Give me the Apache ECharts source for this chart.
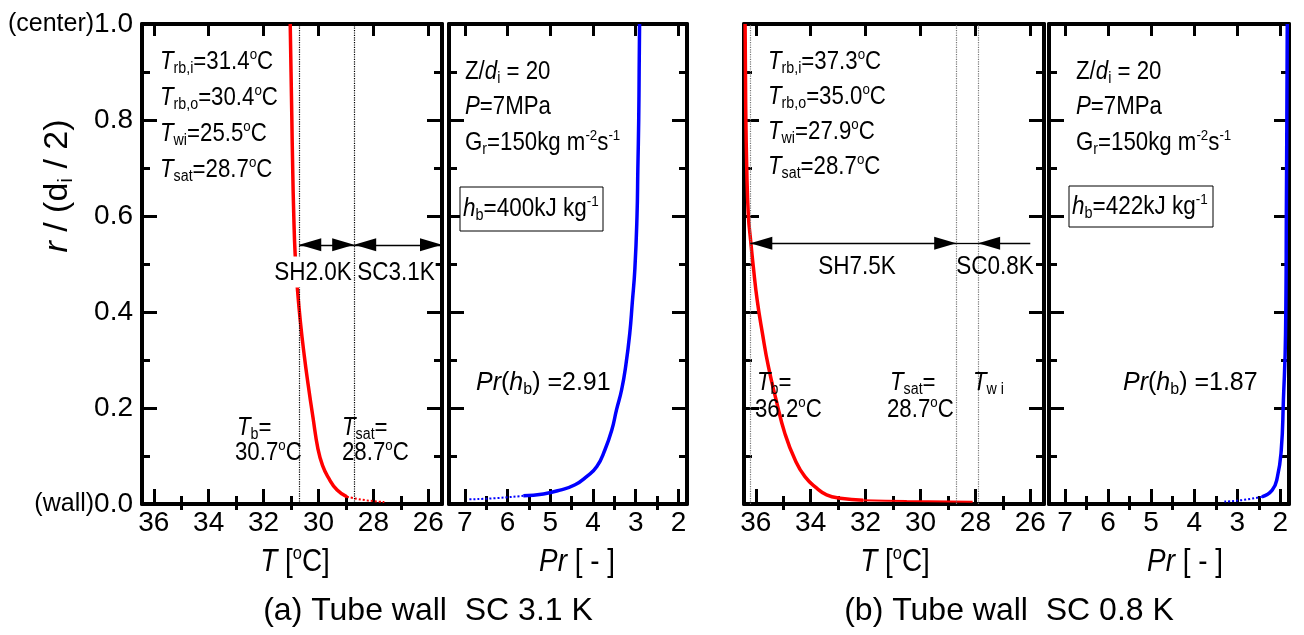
<!DOCTYPE html>
<html>
<head>
<meta charset="utf-8">
<script src="https://cdn.jsdelivr.net/npm/echarts@6/dist/echarts.min.js"></script>
<style>
  html, body { margin: 0; padding: 0; background: #fff; }
  #chart { width: 1304px; height: 635px; }
</style>
</head>
<body>
<div id="chart"></div>
<script>
// axis ranges and tick values
const tRange = [25.5, 36.43];
const prRange = [1.8, 7.37];
const tMajor = [26, 28, 30, 32, 34, 36];
const tMinor = [27, 29, 31, 33, 35];
const prMajor = [2, 3, 4, 5, 6, 7];
const prMinor = [2.5, 3.5, 4.5, 5.5, 6.5];
const rMajor = [0, 0.2, 0.4, 0.6, 0.8, 1.0];
const rMinor = [0.1, 0.3, 0.5, 0.7, 0.9];

// (a) Tube wall SC 3.1 K   -> [value, r/(di/2)]
const tempA = [[31.03, 1.0], [31.0, 0.9], [30.97, 0.8], [30.94, 0.7], [30.9, 0.6], [30.85, 0.52],
  [30.77, 0.45], [30.66, 0.38], [30.52, 0.31], [30.38, 0.25], [30.2, 0.18], [30.02, 0.115],
  [29.85, 0.08], [29.65, 0.056], [29.32, 0.029], [28.96, 0.015]];
const tempAWall = [[28.96, 0.015], [28.3, 0.008], [27.6, 0.004]];
const prA = [[2.91, 1.0], [2.92, 0.9], [2.93, 0.8], [2.95, 0.7], [2.97, 0.6], [3.02, 0.49],
  [3.08, 0.42], [3.14, 0.355], [3.23, 0.29], [3.33, 0.238], [3.45, 0.196], [3.56, 0.154],
  [3.72, 0.113], [3.91, 0.078], [4.15, 0.057], [4.42, 0.04], [4.77, 0.029], [5.16, 0.021], [5.63, 0.017]];
const prAWall = [[5.63, 0.017], [6.3, 0.012], [6.9, 0.0097]];
const refA = [30.7, 28.7];       // Tb, Tsat
const arrowA = 0.54;

// (b) Tube wall SC 0.8 K
const tempB = [[36.39, 1.0], [36.37, 0.84], [36.33, 0.7], [36.27, 0.6], [36.19, 0.55], [36.09, 0.494],
  [35.95, 0.425], [35.76, 0.356], [35.54, 0.286], [35.26, 0.217], [34.94, 0.147], [34.57, 0.092],
  [34.21, 0.057], [33.78, 0.033], [33.42, 0.019], [32.93, 0.012], [32.08, 0.008]];
const tempBWall = [[32.08, 0.008], [30.5, 0.006], [28.1, 0.0045]];
const prB = [[1.84, 1.0], [1.85, 0.8], [1.86, 0.632], [1.88, 0.355], [1.93, 0.216], [1.98, 0.112],
  [2.07, 0.056], [2.19, 0.029], [2.43, 0.015]];
const prBWall = [[2.43, 0.015], [2.9, 0.008], [3.3, 0.005]];
const refB = [36.2, 28.7, 27.9]; // Tb, Tsat, Twi
const arrowB = 0.543;
const scEndB = 26.0;

const FAM = '"Liberation Sans", Arial, sans-serif';

const panels = [
  { left: 142, width: 300, range: tRange, major: tMajor, minor: tMinor, yLabels: true },
  { left: 449, width: 238, range: prRange, major: prMajor, minor: prMinor },
  { left: 744, width: 300, range: tRange, major: tMajor, minor: tMinor },
  { left: 1049, width: 240, range: prRange, major: prMajor, minor: prMinor }
];

const line = (color, width) => ({ show: true, onZero: false, lineStyle: { color, width } });
const tick = (vals, len) => ({ show: true, inside: true, length: len, customValues: vals,
  lineStyle: { color: '#000', width: 3 } });

const grid = [], xAxis = [], yAxis = [];
panels.forEach((p, g) => {
  grid.push({ left: p.left, top: 24, width: p.width, height: 480, containLabel: false, outerBoundsMode: 'none' });
  const xb = { gridIndex: g, type: 'value', min: p.range[0], max: p.range[1], inverse: true,
    splitLine: { show: false } };
  xAxis.push({ ...xb, position: 'bottom', axisLine: line('#000', 4), axisTick: tick(p.major, 15),
    axisLabel: { show: true, customValues: p.major, margin: 5, fontSize: 28, fontFamily: FAM, color: '#000' } });
  xAxis.push({ ...xb, position: 'bottom', axisLine: { show: false }, axisTick: tick(p.minor, 8), axisLabel: { show: false } });
  xAxis.push({ ...xb, position: 'top', axisLine: line('#000', 4), axisTick: tick(p.major, 12), axisLabel: { show: false } });
  xAxis.push({ ...xb, position: 'top', axisLine: { show: false }, axisTick: tick(p.minor, 6), axisLabel: { show: false } });

  const yb = { gridIndex: g, type: 'value', min: 0, max: 1, splitLine: { show: false } };
  yAxis.push({ ...yb, position: 'left', axisLine: line('#000', 4), axisTick: tick(rMajor, 15),
    axisLabel: { show: !!p.yLabels, customValues: rMajor, margin: 9, fontSize: 28, fontFamily: FAM, color: '#000',
      rich: { s: { fontSize: 25, fontFamily: FAM, color: '#000' } },
      formatter: v => v === 1 ? '{s|(center)}1.0' : v === 0 ? '{s|(wall)}0.0' : v.toFixed(1) } });
  yAxis.push({ ...yb, position: 'left', axisLine: { show: false }, axisTick: tick(rMinor, 8), axisLabel: { show: false } });
  yAxis.push({ ...yb, position: 'right', axisLine: line('#000', 4), axisTick: tick(rMajor, 15), axisLabel: { show: false } });
  yAxis.push({ ...yb, position: 'right', axisLine: { show: false }, axisTick: tick(rMinor, 8), axisLabel: { show: false } });
});

const curve = (g, data, color, width, type) => ({
  type: 'line', xAxisIndex: 4 * g, yAxisIndex: 4 * g, data, showSymbol: false, symbol: 'none',
  smooth: 0.5, silent: true, z: 3,
  lineStyle: { color, width, type: type || 'solid' }
});

const vlines = (vals, color) => ({
  silent: true, symbol: 'none', label: { show: false },
  lineStyle: { type: 'dotted', color, width: 1.2 },
  data: vals.map(v => ({ xAxis: v }))
});

const HEAD = { symbol: 'triangle', symbolSize: [13, 22], symbolOffset: [0, 11] };
const arrow = (x1, x2, y, h1, h2) => [
  Object.assign({ coord: [x1, y] }, h1 ? HEAD : { symbol: 'none' }),
  Object.assign({ coord: [x2, y] }, h2 ? HEAD : { symbol: 'none' })
];
const arrows = (items) => ({
  silent: true, label: { show: false }, symbol: 'none',
  lineStyle: { type: 'solid', color: '#000', width: 1.3 },
  itemStyle: { color: '#000' },
  data: items
});

const series = [];
const sA = curve(0, tempA, '#ff0000', 3.5);
sA.markLine = vlines(refA, '#000');
series.push(sA);
const sA2 = curve(0, tempAWall, '#ff0000', 2, 'dotted');
sA2.markLine = arrows([arrow(refA[0], refA[1], arrowA, true, true), arrow(refA[1], tRange[0], arrowA, true, true)]);
series.push(sA2);
series.push(curve(1, prA, '#0000ff', 3.5));
series.push(curve(1, prAWall, '#0000ff', 2, 'dotted'));

const sB = curve(2, tempB, '#ff0000', 3.5);
sB.markLine = vlines(refB, '#777');
series.push(sB);
const sB2 = curve(2, tempBWall, '#ff0000', 2);
sB2.markLine = arrows([arrow(refB[0], refB[1], arrowB, true, true), arrow(scEndB, refB[2], arrowB, false, true),
  arrow(refB[2], refB[1], arrowB, false, false)]);
series.push(sB2);
series.push(curve(3, prB, '#0000ff', 3.5));
series.push(curve(3, prBWall, '#0000ff', 2, 'dotted'));

// rich text helpers
const rich = (fs) => ({
  i: { fontStyle: 'italic', fontSize: fs, fontFamily: FAM, lineHeight: fs + 4 },
  sub: { fontSize: Math.round(fs * 0.62), fontFamily: FAM, verticalAlign: 'bottom', lineHeight: Math.round(fs * 0.62) },
  sup: { fontSize: Math.round(fs * 0.6), fontFamily: FAM, verticalAlign: 'top', lineHeight: Math.round(fs * 0.6) }
});
const note = (x, y, text, fs, extra, sx) => ({
  type: 'text', x, y, z: 100, silent: true, scaleX: sx || 0.89,
  style: Object.assign({ text, fontSize: fs, fontFamily: FAM, lineHeight: fs + 4, fill: '#000',
    align: 'left', verticalAlign: 'middle', rich: rich(fs) }, extra || {})
});

const graphic = [
  // (a) temperature panel
  note(160, 62, '{i|T}{sub|rb,i}=31.4{sup|o}C', 25),
  note(160, 98, '{i|T}{sub|rb,o}=30.4{sup|o}C', 25),
  note(160, 134, '{i|T}{sub|wi}=25.5{sup|o}C', 25),
  note(160, 170, '{i|T}{sub|sat}=28.7{sup|o}C', 25),
  note(313, 272, 'SH2.0K', 25, { align: 'center', backgroundColor: '#fff', padding: [2, 1, 0, 1] }, 0.9),
  note(396, 272, 'SC3.1K', 25, { align: 'center', backgroundColor: '#fff', padding: [2, 1, 0, 1] }, 0.9),
  note(237, 428, '{i|T}{sub|b}=', 25),
  note(235, 453, '30.7{sup|o}C', 25),
  note(342, 428, '{i|T}{sub|sat}=', 25),
  note(342, 453, '28.7{sup|o}C', 25),
  // (a) Pr panel
  note(465, 72, 'Z/{i|d}{sub|i} = 20', 25),
  note(465, 107, '{i|P}=7MPa', 25),
  note(465, 143, 'G{sub|r}=150kg m{sup|-2}s{sup|-1}', 25),
  { type: 'rect', z: 99, silent: true, shape: { x: 460, y: 187, width: 143, height: 44 },
    style: { fill: '#fff', stroke: '#000', lineWidth: 1 } },
  note(463, 209, '{i|h}{sub|b}=400kJ kg{sup|-1}', 25, null, 0.9),
  note(476, 383, '{i|Pr}({i|h}{sub|b}) =2.91', 25, null, 1),
  // (b) temperature panel
  note(768, 62, '{i|T}{sub|rb,i}=37.3{sup|o}C', 25),
  note(768, 97, '{i|T}{sub|rb,o}=35.0{sup|o}C', 25),
  note(768, 132, '{i|T}{sub|wi}=27.9{sup|o}C', 25),
  note(768, 167, '{i|T}{sub|sat}=28.7{sup|o}C', 25),
  note(857, 267, 'SH7.5K', 25, { align: 'center' }, 0.9),
  note(995, 267, 'SC0.8K', 25, { align: 'center' }, 0.9),
  note(757, 383, '{i|T}{sub|b}=', 25),
  note(755, 410, '36.2{sup|o}C', 25),
  note(890, 383, '{i|T}{sub|sat}=', 25),
  note(887, 410, '28.7{sup|o}C', 25),
  note(973, 383, '{i|T}{sub|w i}', 25),
  // (b) Pr panel
  note(1076, 72, 'Z/{i|d}{sub|i} = 20', 25),
  note(1076, 107, '{i|P}=7MPa', 25),
  note(1076, 143, 'G{sub|r}=150kg m{sup|-2}s{sup|-1}', 25),
  { type: 'rect', z: 99, silent: true, shape: { x: 1069, y: 186, width: 144, height: 41 },
    style: { fill: '#fff', stroke: '#000', lineWidth: 1 } },
  note(1072, 207, '{i|h}{sub|b}=422kJ kg{sup|-1}', 25, null, 0.9),
  note(1123, 383, '{i|Pr}({i|h}{sub|b}) =1.87', 25, null, 1),
  // axis titles
  note(295, 562, '{i|T} [{sup|o}C]', 32, { align: 'center' }, 0.87),
  note(577, 562, '{i|Pr} [ - ]', 32, { align: 'center' }, 0.87),
  note(895, 562, '{i|T} [{sup|o}C]', 32, { align: 'center' }, 0.87),
  note(1185, 562, '{i|Pr} [ - ]', 32, { align: 'center' }, 0.87),
  Object.assign(note(58, 186, '{i|r} / (d{sub|i} / 2)', 34, { align: 'center' }, 1), { rotation: Math.PI / 2 }),
  // captions
  note(428, 611, '(a) Tube wall  SC 3.1 K', 32, { align: 'center' }, 1),
  note(1009, 611, '(b) Tube wall  SC 0.8 K', 32, { align: 'center' }, 1)
];

const chart = echarts.init(document.getElementById('chart'), null, { renderer: 'canvas' });
chart.setOption({
  animation: false,
  backgroundColor: '#fff',
  grid, xAxis, yAxis, series, graphic
});
</script>
</body>
</html>
